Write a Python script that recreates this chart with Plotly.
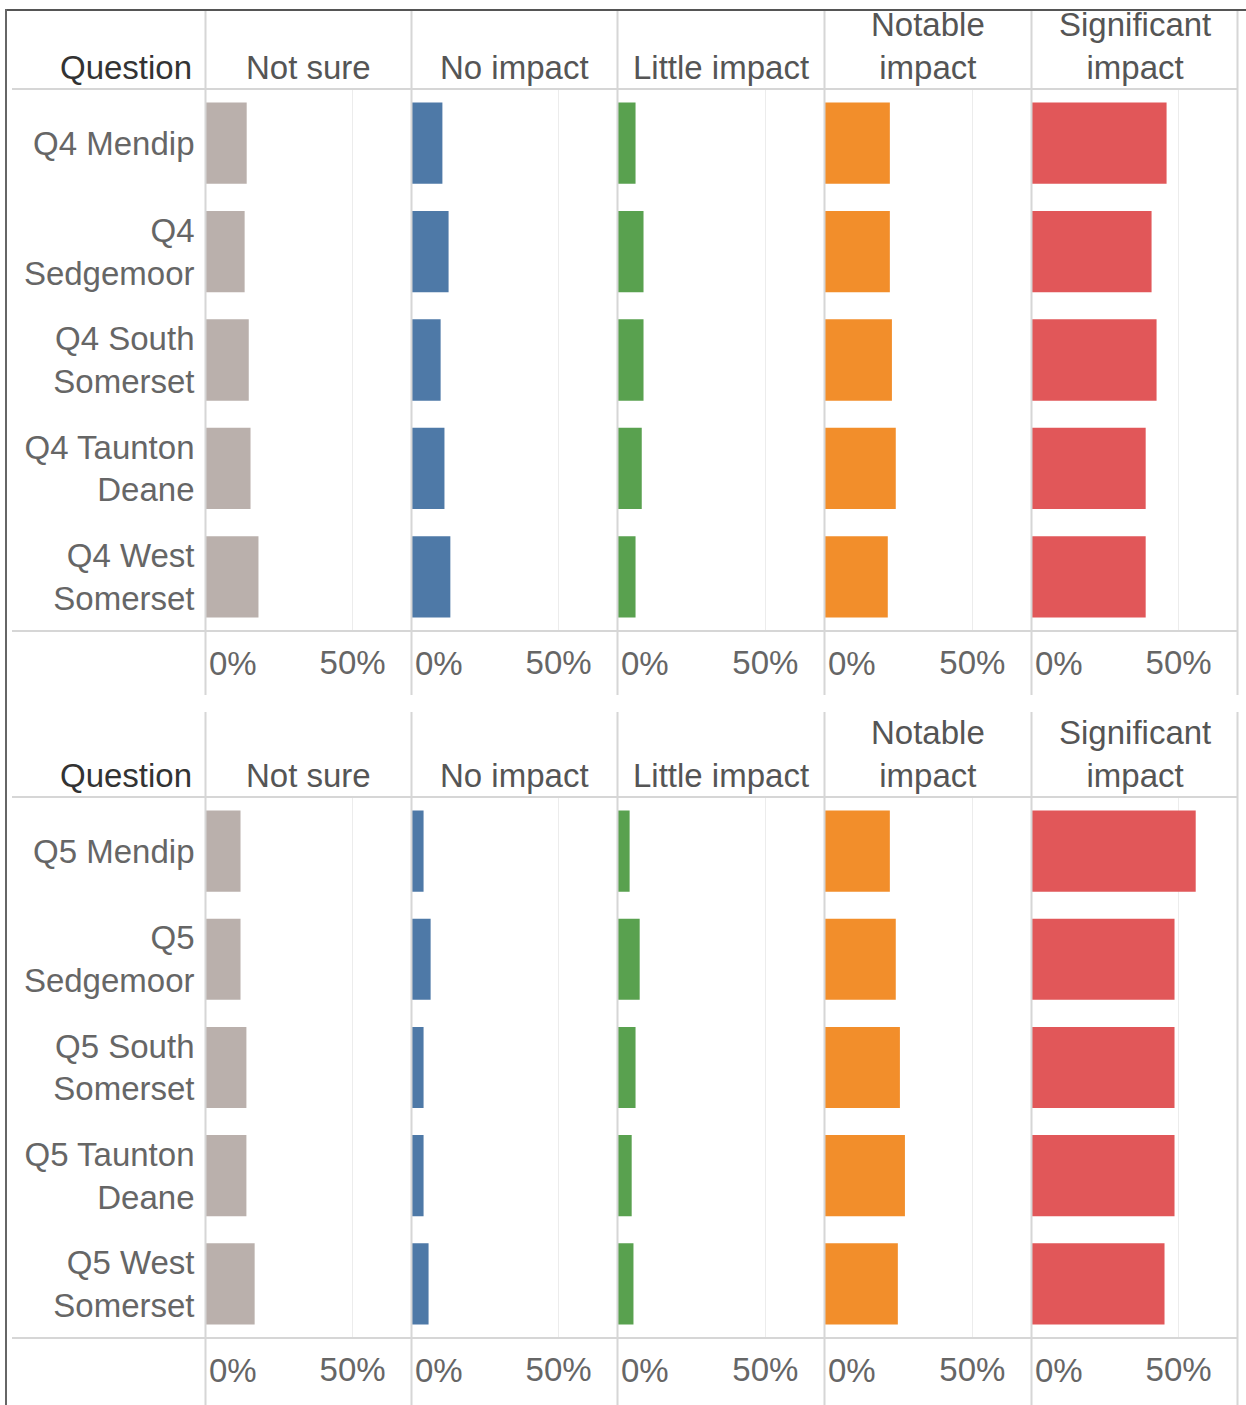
import plotly.graph_objects as go

# ---------------- data ----------------
categories = ["Not sure", "No impact", "Little impact", "Notable impact", "Significant impact"]
header_labels = ["Not sure", "No impact", "Little impact", "Notable<br>impact", "Significant<br>impact"]
colors = ["#bab0ac", "#4e79a7", "#59a14f", "#f28e2b", "#e15759"]

q4_rows = ["Q4 Mendip", "Q4<br>Sedgemoor", "Q4 South<br>Somerset", "Q4 Taunton<br>Deane", "Q4 West<br>Somerset"]
q5_rows = ["Q5 Mendip", "Q5<br>Sedgemoor", "Q5 South<br>Somerset", "Q5 Taunton<br>Deane", "Q5 West<br>Somerset"]

q4_not_sure = [14.0, 13.3, 14.7, 15.3, 18.0]
q4_no_impact = [10.5, 12.6, 9.9, 11.2, 13.2]
q4_little = [6.1, 8.8, 8.8, 8.2, 6.1]
q4_notable = [22.1, 22.1, 22.8, 24.1, 21.4]
q4_significant = [45.9, 40.8, 42.5, 38.8, 38.8]

q5_not_sure = [11.9, 11.9, 13.9, 13.9, 16.7]
q5_no_impact = [4.1, 6.5, 4.1, 4.1, 5.8]
q5_little = [4.1, 7.5, 6.1, 4.8, 5.4]
q5_notable = [22.1, 24.1, 25.5, 27.2, 24.8]
q5_significant = [55.8, 48.6, 48.6, 48.6, 45.2]

x_range_max = 70
tick_vals = [0, 50]
tick_text = ["0%", "50%"]

panels_data = [
    (q4_rows, [q4_not_sure, q4_no_impact, q4_little, q4_notable, q4_significant]),
    (q5_rows, [q5_not_sure, q5_no_impact, q5_little, q5_notable, q5_significant]),
]

# ---------------- layout helpers ----------------
W, H = 1246, 1405
def fx(px):
    return px / W
def fy(py):
    return 1 - py / H

FONT = "Arial, Liberation Sans, sans-serif"
col_edges = [205.5, 411.5, 617.5, 824.5, 1031.5, 1237.5]
# (rows top, rows bottom, panel top, panel bottom, tick label centre)
panel_geom = [(89, 631, 10, 695, 663), (797, 1338, 712, 1405, 1370)]

fig = go.Figure()
layout = dict(
    width=W, height=H, margin=dict(l=0, r=0, t=0, b=0),
    template="none", paper_bgcolor="white", plot_bgcolor="rgba(0,0,0,0)",
    showlegend=False, bargap=0.25,
    font=dict(family=FONT, size=33, color="#666"),
)
annotations = []
shapes = []

grid_col = "#d6d6d6"

for p, (rows, series) in enumerate(panels_data):
    top, bottom, ptop, pbot, tick_y = panel_geom[p]
    for c in range(5):
        k = p * 5 + c + 1
        xa = "x" if k == 1 else f"x{k}"
        ya = "y" if k == 1 else f"y{k}"
        fig.add_trace(go.Bar(
            x=series[c], y=rows, orientation="h", width=0.75,
            marker=dict(color=colors[c], line=dict(width=0)),
            name=categories[c], xaxis=xa, yaxis=ya,
            hovertemplate="%{y}: %{x:.1f}%<extra>" + categories[c] + "</extra>",
        ))
        layout["xaxis" if k == 1 else f"xaxis{k}"] = dict(
            domain=[fx(col_edges[c]), fx(col_edges[c + 1])],
            range=[0, x_range_max], anchor=ya,
            tickvals=[tick_vals[1]], ticktext=[tick_text[1]],
            showgrid=True, gridcolor="#ececec", gridwidth=1,
            zeroline=False, showline=False, ticks="",
            tickfont=dict(family=FONT, size=33, color="#666"),
            ticklabelstandoff=9, automargin=False, fixedrange=True,
        )
        layout["yaxis" if k == 1 else f"yaxis{k}"] = dict(
            domain=[fy(bottom), fy(top)], anchor=xa,
            type="category", categoryorder="array", categoryarray=rows,
            autorange="reversed", showgrid=False, zeroline=False,
            showline=False, ticks="", showticklabels=(c == 0),
            tickfont=dict(family=FONT, size=33, color="#666"),
            ticklabelstandoff=10, automargin=False, fixedrange=True,
        )
        # 0% tick label, left-aligned at the column edge
        annotations.append(dict(
            x=tick_vals[0], xref=xa, y=fy(tick_y), yref="paper",
            text=tick_text[0], showarrow=False, xanchor="left", yanchor="middle",
            xshift=1, font=dict(family=FONT, size=33, color="#666"),
        ))
        # column header
        annotations.append(dict(
            x=fx((col_edges[c] + col_edges[c + 1]) / 2), xref="paper",
            y=fy(top - 1), yref="paper", text=header_labels[c], showarrow=False,
            xanchor="center", yanchor="bottom",
            font=dict(family=FONT, size=33, color="#555"),
        ))
    annotations.append(dict(
        x=fx(194), xref="paper", y=fy(top - 1), yref="paper", text="Question",
        showarrow=False, xanchor="right", yanchor="bottom",
        font=dict(family=FONT, size=33, color="#333"),
    ))
    # vertical column dividers
    for e in col_edges:
        shapes.append(dict(type="line", xref="paper", yref="paper",
                           x0=fx(e), x1=fx(e), y0=fy(ptop), y1=fy(pbot),
                           line=dict(color=grid_col, width=2)))
    # horizontal separators
    for yy in (top, bottom):
        shapes.append(dict(type="line", xref="paper", yref="paper",
                           x0=fx(12), x1=fx(1237.5), y0=fy(yy), y1=fy(yy),
                           line=dict(color=grid_col, width=2)))

# outer border (top and left)
shapes.append(dict(type="line", xref="paper", yref="paper",
                   x0=fx(5), x1=1, y0=fy(10), y1=fy(10),
                   line=dict(color="#555", width=2)))
shapes.append(dict(type="line", xref="paper", yref="paper",
                   x0=fx(6), x1=fx(6), y0=fy(9), y1=0,
                   line=dict(color="#666", width=2)))

layout["annotations"] = annotations
layout["shapes"] = shapes
fig.update_layout(**layout)
fig.write_html("out.html", config={"displayModeBar": False},
               post_script="document.body.style.margin='0';")
